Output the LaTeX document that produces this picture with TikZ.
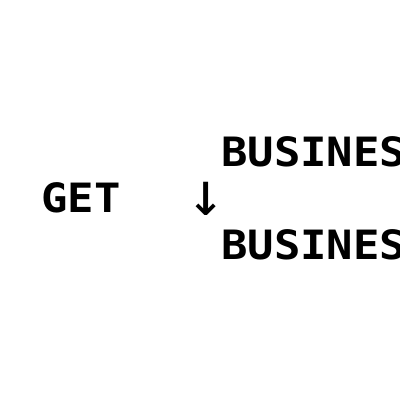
\documentclass[tikz,border=0pt]{standalone}
\usepackage{fontspec}
\setmonofont{DejaVu Sans Mono}
\usepackage{tikz}
\usetikzlibrary{positioning}

\newcommand{\squash}[1]{\scalebox{1}[0.92]{#1}}

\begin{document}
\begin{tikzpicture}[
    x=0.025cm, y=-0.025cm,
    word/.style={inner sep=0pt, anchor=base west,
                 font=\ttfamily\bfseries\fontsize{31.2}{37}\selectfont},
    glyph/.style={inner sep=0pt, anchor=base west,
                 font=\ttfamily\fontsize{44}{50}\selectfont},
  ]
    \useasboundingbox (0,0) rectangle (400,400);
    \clip (0,0) rectangle (400,400);

    \node[word]  (get)  at (41,212)  {\squash{GET}};
    \node[glyph] (down) at (187,215) {↓};
    \node[word]  (top)  at (221,166) {\squash{BUSINESS}};
    \node[word]  (bot)  at (221,259) {\squash{BUSINESS}};
  \end{tikzpicture}
\end{document}
